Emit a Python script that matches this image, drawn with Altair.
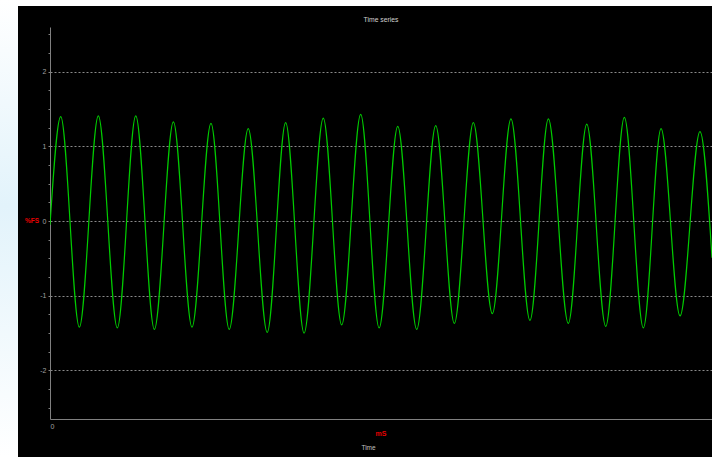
import altair as alt
import pandas as pd

# ---- data (time in ms, value in %FS) ----
peak_t = [5.7, 25.7, 45.6, 65.6, 85.6, 105.4, 125.3, 145.3, 165.2, 184.9,
          205.1, 225.1, 245.1, 265.0, 285.4, 305.4, 324.9, 345.6]
peak_v = [1.40, 1.41, 1.41, 1.33, 1.31, 1.24, 1.32, 1.38, 1.43, 1.27,
          1.28, 1.32, 1.37, 1.37, 1.30, 1.39, 1.24, 1.20]
trough_t = [15.6, 35.8, 55.5, 75.5, 95.3, 115.5, 135.1, 155.1, 175.0,
            195.0, 215.0, 235.2, 255.2, 275.6, 295.5, 315.5, 335.0]
trough_v = [-1.42, -1.43, -1.45, -1.42, -1.45, -1.49, -1.50, -1.39, -1.43,
            -1.45, -1.37, -1.24, -1.33, -1.37, -1.41, -1.43, -1.27]
start_t, start_v = 0.0, -0.05
end_t, end_v = 352.0, -0.49

y_ticks = [-2.5, -2.25, -2.0, -1.75, -1.5, -1.25, -1.0, -0.75, -0.5, -0.25, 0.0,
           0.25, 0.5, 0.75, 1.0, 1.25, 1.5, 1.75, 2.0, 2.25, 2.5]
x_ticks = [0]

rows = [(start_t, start_v)] + list(zip(peak_t, peak_v)) + list(zip(trough_t, trough_v)) + [(end_t, end_v)]
df = pd.DataFrame(rows, columns=["t", "v"]).sort_values("t")

W, H = 662, 392
FONT = "Liberation Sans"
GRAY = "#a0a0a0"
RED = "#e80000"

one = pd.DataFrame({"a": [0]})

line = alt.Chart(df).mark_line(
    color="#00cc00", strokeWidth=1.2, interpolate="monotone", clip=True
).encode(
    x=alt.X("t:Q", scale=alt.Scale(domain=[0, 352], nice=False, zero=False),
            axis=alt.Axis(values=x_ticks, title="Time", grid=False, tickSize=0,
                          labelPadding=3, labelFontSize=7, labelColor=GRAY, labelFont=FONT,
                          domainColor="#808080", titleColor="#c0c0c0", titleFont=FONT,
                          titleFontSize=6.5, titleFontWeight="normal",
                          titleX=318, titleY=28, titleBaseline="middle", titleAlign="center")),
    y=alt.Y("v:Q", scale=alt.Scale(domain=[-2.65, 2.6], nice=False, zero=False),
            axis=alt.Axis(values=y_ticks, title="%FS", grid=True,
                          gridColor="#8a8a8a", gridDash=[2, 2], gridWidth=1,
                          gridOpacity={"condition": {"test": "datum.value % 1 === 0", "value": 1}, "value": 0},
                          labelExpr="datum.value % 1 === 0 ? '' + datum.value : ''",
                          tickSize=2, tickColor="#808080", domainColor="#808080",
                          labelPadding=2, labelFontSize=7, labelColor=GRAY, labelFont=FONT,
                          titleAngle=0, titleColor=RED, titleFont=FONT, titleFontSize=6.5,
                          titleFontWeight="bold", titleX=-18.5, titleY=193,
                          titleAlign="center", titleBaseline="middle")),
)

left_strip = alt.Chart(one).mark_rect(
    color=alt.Gradient(gradient="linear", x1=0, y1=0, x2=0, y2=1,
                       stops=[alt.GradientStop(offset=0, color="#ffffff"),
                              alt.GradientStop(offset=0.45, color="#e2f3fb"),
                              alt.GradientStop(offset=1, color="#ffffff")])
).encode(x=alt.value(-50), x2=alt.value(-32), y=alt.value(-27), y2=alt.value(430))

top_strip = alt.Chart(one).mark_rect(color="#ffffff").encode(
    x=alt.value(-32), x2=alt.value(670), y=alt.value(-27), y2=alt.value(-21))

right_strip = alt.Chart(one).mark_rect(color="#ffffff").encode(
    x=alt.value(662), x2=alt.value(670), y=alt.value(-27), y2=alt.value(430))

title_text = alt.Chart(one).mark_text(
    text="Time series", color="#d0d0d0", fontSize=6.8, font=FONT, align="center", baseline="middle"
).encode(x=alt.value(331), y=alt.value(-7))

ms_label = alt.Chart(one).mark_text(
    text="mS", color=RED, fontSize=7, fontWeight="bold", font=FONT, align="center", baseline="middle"
).encode(x=alt.value(331), y=alt.value(407))

chart = alt.layer(left_strip, top_strip, right_strip, line, title_text, ms_label).properties(
    width=W, height=H,
    background="#000000",
    padding={"left": 50, "top": 27, "right": 8, "bottom": 38},
    autosize=alt.AutoSizeParams(type="none"),
).configure_view(stroke="transparent")

chart.save("out.html", embed_options={"renderer": "svg", "actions": False})
